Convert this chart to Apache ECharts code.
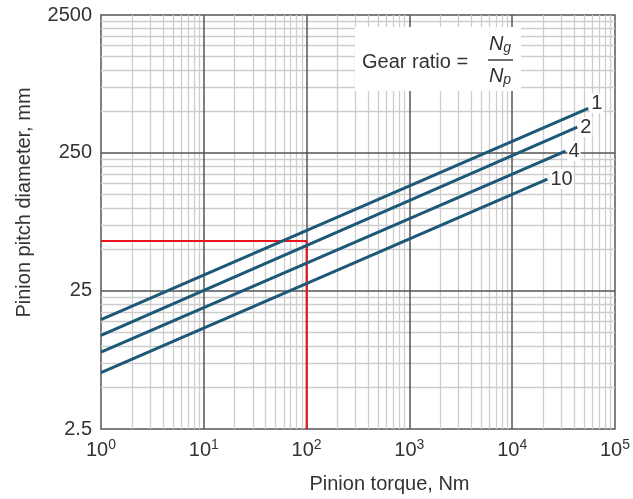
<!DOCTYPE html>
<html>
<head>
<meta charset="utf-8">
<script src="https://cdn.jsdelivr.net/npm/echarts@6/dist/echarts.min.js"></script>
<style>
  html, body { margin: 0; padding: 0; background: #fff; }
  #main { width: 633px; height: 499px; }
</style>
</head>
<body>
<div id="main"></div>
<script>
  // gear ratio curves (straight lines on log-log)
  const ratios = ['1', '2', '4', '10'];
  const startTorque = [1, 1, 1, 1];
  const endTorque = [55000, 43000, 33000, 22000];
  const startDiameter = [15.5, 11.9, 9.0, 6.4];
  const endDiameter = [527, 385, 258, 162];

  // red worked example
  const exampleTorque = [1, 100, 100];
  const exampleDiameter = [57.5, 57.5, 2.5];

  // grid values
  const xDecades = [1, 10, 100, 1000, 10000];
  const xMajor = [10, 100, 1000, 10000];
  const yDecades = [2.5, 25, 250];
  const yMajor = [25, 250];
  const minorSteps = [2, 3, 4, 5, 6, 7, 8, 9];

  const FONT = 'Liberation Sans, Arial, sans-serif';
  const TEXT = '#333';
  const BLUE = '#1d5878';

  const chart = echarts.init(document.getElementById('main'));

  const minorLines = [];
  xDecades.forEach(d => minorSteps.forEach(k => minorLines.push({ xAxis: d * k })));
  yDecades.forEach(d => minorSteps.forEach(k => minorLines.push({ yAxis: d * k })));
  const majorLines = xMajor.map(v => ({ xAxis: v })).concat(yMajor.map(v => ({ yAxis: v })));

  const curveSeries = ratios.map((r, i) => ({
    name: r,
    type: 'line',
    z: 7,
    symbol: 'none',
    silent: true,
    lineStyle: { color: BLUE, width: 3 },
    data: [[startTorque[i], startDiameter[i]], [endTorque[i], endDiameter[i]]],
    endLabel: {
      show: true,
      formatter: r,
      distance: 2,
      offset: i === 0 ? [0, -5] : [0, 0],
      fontFamily: FONT,
      fontSize: 20,
      color: TEXT,
      backgroundColor: '#fff',
      padding: [0, 1]
    }
  }));

  const fracRich = {
    n: { fontSize: 20, fontStyle: 'italic', fontFamily: FONT, fill: TEXT },
    s: { fontSize: 14, fontStyle: 'italic', fontFamily: FONT, fill: TEXT, padding: [9, 0, 0, 0] }
  };

  chart.setOption({
    animation: false,
    textStyle: { fontFamily: FONT },
    grid: {
      left: 101, right: 17, top: 15, bottom: 67,
      show: true, borderColor: '#555', borderWidth: 1.5
    },
    xAxis: {
      type: 'log',
      min: 1,
      max: 100000,
      name: 'Pinion torque, Nm',
      nameLocation: 'middle',
      nameGap: 45,
      nameTextStyle: { fontSize: 20, color: TEXT, padding: [0, 0, 0, 63] },
      axisLine: { show: false },
      axisTick: { show: false },
      splitLine: { show: false },
      axisLabel: {
        margin: 9,
        formatter: v => '{b|10}{s|' + Math.round(Math.log10(v)) + '}',
        rich: {
          b: { fontSize: 20, color: TEXT, fontFamily: FONT },
          s: { fontSize: 14, color: TEXT, fontFamily: FONT, padding: [0, 0, 11, 0] }
        }
      }
    },
    yAxis: {
      type: 'log',
      min: 2.5,
      max: 2500,
      interval: 1,
      name: 'Pinion pitch diameter, mm',
      nameLocation: 'middle',
      nameGap: 67,
      nameTextStyle: { fontSize: 20, color: TEXT, padding: [0, 0, 0, 39] },
      axisLine: { show: false },
      axisTick: { show: false },
      splitLine: { show: false },
      axisLabel: {
        margin: 9,
        fontSize: 20,
        color: TEXT,
        formatter: v => String(Number(v.toPrecision(2)))
      }
    },
    series: [
      {
        type: 'line',
        data: [],
        z: 1,
        silent: true,
        markLine: {
          z: 1,
          silent: true,
          symbol: ['none', 'none'],
          label: { show: false },
          lineStyle: { color: '#cdcdcd', width: 1.3, type: 'solid' },
          data: minorLines
        }
      },
      {
        type: 'line',
        data: [],
        z: 2,
        silent: true,
        markLine: {
          z: 2,
          silent: true,
          symbol: ['none', 'none'],
          label: { show: false },
          lineStyle: { color: '#555', width: 1.5, type: 'solid' },
          data: majorLines
        }
      },
      {
        type: 'line',
        z: 6,
        symbol: 'none',
        silent: true,
        lineStyle: { color: '#e8161c', width: 2 },
        data: exampleTorque.map((t, i) => [t, exampleDiameter[i]])
      }
    ].concat(curveSeries),
    graphic: [
      { type: 'rect', z: 100, shape: { x: 355, y: 27, width: 166, height: 64 }, style: { fill: '#fff' } },
      {
        type: 'text', z: 101, x: 362, y: 62,
        style: { text: 'Gear ratio =', fontSize: 20, fontFamily: FONT, fill: TEXT, verticalAlign: 'middle' }
      },
      {
        type: 'text', z: 101, x: 500, y: 44,
        style: { text: '{n|N}{s|g}', align: 'center', verticalAlign: 'middle', rich: fracRich }
      },
      { type: 'line', z: 101, shape: { x1: 488, y1: 60, x2: 513, y2: 60 }, style: { stroke: TEXT, lineWidth: 1.4 } },
      {
        type: 'text', z: 101, x: 500, y: 76,
        style: { text: '{n|N}{s|p}', align: 'center', verticalAlign: 'middle', rich: fracRich }
      }
    ]
  });
</script>
</body>
</html>
